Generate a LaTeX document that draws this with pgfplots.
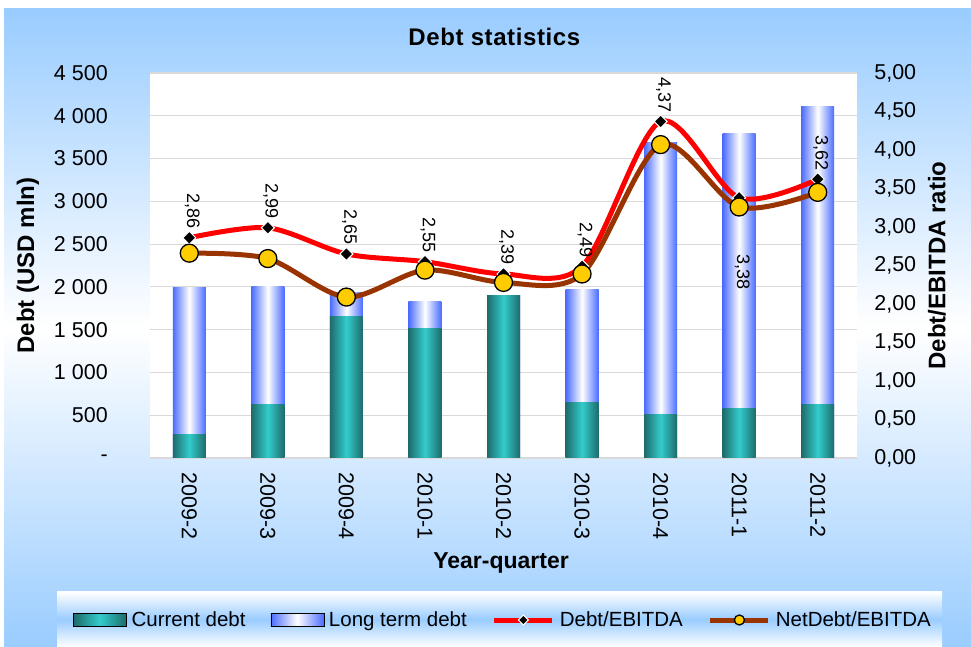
\documentclass[border=0pt]{standalone}
\usepackage{pgfplots}
\pgfplotsset{compat=1.18}
\usepackage{pgfplotstable}
\usepackage{fontspec}
\setmainfont{Liberation Sans}
\newfontfamily\titlefont{Liberation Sans}[LetterSpace=2.5]
\definecolor{bgblue}{HTML}{99CCFF}
\definecolor{tealdark}{HTML}{1E6B6B}
\definecolor{tealbright}{HTML}{33CCCC}
\definecolor{ltblue}{HTML}{4A6CFF}
\definecolor{netbrown}{HTML}{993300}
\definecolor{gold}{HTML}{FFCC00}
\definecolor{gridgray}{HTML}{D9D9D9}

\pgfplotsset{
  redleg/.style={legend image code/.code={\draw[##1, mark repeat=2, mark phase=2, mark size=3.5pt] plot coordinates {(0pt,0pt) (29pt,0pt) (58pt,0pt)};}},
  brownleg/.style={legend image code/.code={\draw[##1, mark repeat=2, mark phase=2, mark size=5pt] plot coordinates {(0pt,0pt) (29pt,0pt) (58pt,0pt)};}},
  tealleg/.style={legend image code/.code={\fill[left color=tealdark, right color=tealdark, middle color=tealbright] (0pt,-6.5pt) rectangle (53pt,6.5pt);}},
  blueleg/.style={legend image code/.code={\fill[left color=ltblue, right color=ltblue, middle color=white] (0pt,-6.5pt) rectangle (53pt,6.5pt);}},
  curbar/.style={draw=none, left color=tealdark, right color=tealdark, middle color=tealbright},
  totbar/.style={draw=none, left color=ltblue, right color=ltblue, middle color=white},
}

\pgfplotstableread{
x debt net
0 2.86 2.66
1 2.99 2.59
2 2.65 2.09
3 2.55 2.44
4 2.39 2.28
5 2.49 2.39
6 4.37 4.07
7 3.38 3.26
8 3.62 3.45
}\ratiotable

\pgfplotstableread{
x y lab
0 2.86 2,86
1 2.99 2,99
2 2.65 2,65
3 2.55 2,55
4 2.39 2,39
5 2.49 2,49
6 4.37 4,37
8 3.62 3,62
}\labelabove

\pgfplotstableread{
x y lab
7 3.38 3,38
}\labelbelow

\begin{document}
\begin{tikzpicture}
\useasboundingbox (0pt,0pt) rectangle (971pt,647pt);
\fill[white] (0pt,0pt) rectangle (971pt,647pt);
\fill[top color=bgblue, bottom color=bgblue, middle color=white] (4pt,0pt) rectangle (971pt,638pt);
\fill[top color=white, bottom color=white, middle color=bgblue] (57pt,0pt) rectangle (942pt,55pt);

\begin{axis}[
  at={(150pt,189pt)}, anchor=south west,
  scale only axis, width=707pt, height=385pt,
  xmin=-0.5, xmax=8.5, ymin=0, ymax=4500,
  ybar, bar width=33pt, bar shift=0pt,
  xtick={0,1,2,3,4,5,6,7,8},
  xticklabels={2009-2,2009-3,2009-4,2010-1,2010-2,2010-3,2010-4,2011-1,2011-2},
  ytick={0,500,1000,1500,2000,2500,3000,3500,4000,4500},
  yticklabels={-,500,1 000,1 500,2 000,2 500,3 000,3 500,4 000,4 500},
  axis line style={draw=none},
  tick style={draw=none},
  ymajorgrids, grid style={gridgray, line width=1.2pt},
  axis background/.style={fill=white},
  tick label style={font=\fontsize{21.5}{24}\selectfont, inner sep=0pt},
  xticklabel style={rotate=-90, anchor=west},
  xticklabel shift=10pt,
  yticklabel shift=42pt,
  title={Debt statistics},
  title style={font=\titlefont\bfseries\fontsize{24}{28}\selectfont, at={(axis description cs:0.487,1)}, anchor=center, yshift=30pt},
  xlabel={Year-quarter},
  xlabel style={font=\bfseries\fontsize{23}{26}\selectfont, at={(axis description cs:0.4965,-0.2727)}, anchor=center},
  ylabel={Debt (USD mln)},
  ylabel style={font=\bfseries\fontsize{24}{28}\selectfont, at={(axis description cs:-0.1726,0.5)}, anchor=center},
]
% total debt (current + long term) drawn first, current debt drawn over it
\addplot[totbar] coordinates {(0,1990)}; \addplot[curbar] coordinates {(0,270)};
\addplot[totbar] coordinates {(1,2010)}; \addplot[curbar] coordinates {(1,620)};
\addplot[totbar] coordinates {(2,1940)}; \addplot[curbar] coordinates {(2,1650)};
\addplot[totbar] coordinates {(3,1825)}; \addplot[curbar] coordinates {(3,1510)};
\addplot[totbar] coordinates {(4,1900)}; \addplot[curbar] coordinates {(4,1900)};
\addplot[totbar] coordinates {(5,1965)}; \addplot[curbar] coordinates {(5,645)};
\addplot[totbar] coordinates {(6,3690)}; \addplot[curbar] coordinates {(6,505)};
\addplot[totbar] coordinates {(7,3790)}; \addplot[curbar] coordinates {(7,575)};
\addplot[totbar] coordinates {(8,4105)}; \addplot[curbar] coordinates {(8,620)};
\end{axis}

\begin{axis}[
  at={(150pt,189pt)}, anchor=south west,
  scale only axis, width=707pt, height=385pt,
  xmin=-0.5, xmax=8.5, ymin=0, ymax=5,
  axis x line=none, axis y line=right,
  y axis line style={draw=none},
  tick style={draw=none},
  ytick={0,0.5,1,1.5,2,2.5,3,3.5,4,4.5,5},
  yticklabels={{0,00},{0,50},{1,00},{1,50},{2,00},{2,50},{3,00},{3,50},{4,00},{4,50},{5,00}},
  tick label style={font=\fontsize{21.5}{24}\selectfont, inner sep=0pt},
  yticklabel shift=15pt,
  ylabel={Debt/EBITDA ratio},
  ylabel style={font=\bfseries\fontsize{24}{28}\selectfont, at={(axis description cs:1.113,0.5)}, anchor=center},
  legend columns=4,
  legend cell align=left,
  legend style={draw=none, fill=none, at={(axis description cs:-0.1089,-0.4208)}, anchor=west,
    inner sep=0pt, font=\fontsize{20.5}{23}\selectfont,
    nodes={inner sep=0pt, anchor=west},
    /tikz/every odd column/.append style={column sep=5pt},
    /tikz/every even column/.append style={column sep=25pt}},
]
\addlegendimage{tealleg}
\addlegendentry{Current debt}
\addlegendimage{blueleg}
\addlegendentry{Long term debt}

\addplot[red, line width=5pt, smooth, mark=square*, mark size=4.6pt, mark options={fill=black, draw=white, line width=1pt, rotate=45}, redleg]
  table[x=x, y=debt] {\ratiotable};
\addlegendentry{Debt/EBITDA}

\addplot[draw=none, mark=none, forget plot, nodes near coords, point meta=explicit symbolic,
  every node near coord/.append style={yshift=8pt, xshift=3pt, rotate=-90, anchor=east, font=\fontsize{18}{20}\selectfont, inner sep=1pt, text=black}]
  table[x=x, y=y, meta=lab] {\labelabove};
\addplot[draw=none, mark=none, forget plot, nodes near coords, point meta=explicit symbolic,
  every node near coord/.append style={yshift=-56pt, xshift=3pt, rotate=-90, anchor=west, font=\fontsize{18}{20}\selectfont, inner sep=1pt, text=black}]
  table[x=x, y=y, meta=lab] {\labelbelow};

\addplot[netbrown, line width=5pt, smooth, mark=*, mark size=9pt, mark options={fill=gold, draw=black, line width=1.3pt}, brownleg]
  table[x=x, y=net] {\ratiotable};
\addlegendentry{NetDebt/EBITDA}
\end{axis}
\end{tikzpicture}
\end{document}
